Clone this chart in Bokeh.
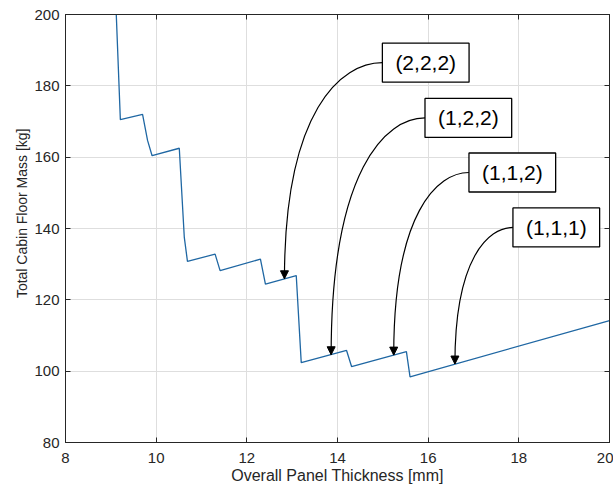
import math
from bokeh.plotting import figure
from bokeh.models import Label, LinearAxis, Arrow, NormalHead, ColumnDataSource, Range1d, FixedTicker, Title
from bokeh.embed import file_html
from bokeh.resources import INLINE

# Data
thickness = [9.12, 9.21, 9.70, 9.81, 9.91, 10.51, 10.62, 10.69, 11.30, 11.41, 12.30, 12.41,
             13.09, 13.20, 14.20, 14.31, 15.52, 15.60, 20.0]
mass = [200.0, 170.5, 172.0, 164.7, 160.4, 162.5, 137.6, 130.8, 132.8, 128.2, 131.4, 124.4,
        126.8, 102.4, 105.8, 101.3, 105.5, 98.4, 114.2]
x_ticks = [8, 10, 12, 14, 16, 18, 20]
y_ticks = [80, 100, 120, 140, 160, 180, 200]

ann_labels = ["(2,2,2)", "(1,2,2)", "(1,1,2)", "(1,1,1)"]
ann_box_x = [14.99, 15.93, 16.90, 17.87]
ann_box_y = [186.5, 171.0, 155.7, 140.3]
ann_tip_x = [12.83, 13.86, 15.24, 16.59]
ann_tip_y = [125.9, 104.6, 104.5, 102.0]

FONT = "Liberation Sans"
AX = "#262626"

p = figure(width=613, height=488, x_range=Range1d(8, 20), y_range=Range1d(80, 200),
           output_backend="svg", toolbar_location=None,
           min_border_left=65, min_border_right=4, min_border_top=14, min_border_bottom=46)
p.background_fill_color = "white"
p.border_fill_color = "white"
p.outline_line_color = AX
p.outline_line_width = 1

p.xaxis.ticker = FixedTicker(ticks=x_ticks)
p.yaxis.ticker = FixedTicker(ticks=y_ticks)
for ax in [p.xaxis[0], p.yaxis[0]]:
    ax.major_tick_in = 5
    ax.major_tick_out = 0
    ax.minor_tick_line_color = None
    ax.axis_line_color = AX
    ax.major_tick_line_color = AX
    ax.major_label_text_font = FONT
    ax.major_label_text_font_size = "15px"
    ax.major_label_text_color = AX
p.xaxis.major_label_standoff = 10
p.yaxis.major_label_standoff = 6

p.xaxis.axis_label = "Overall Panel Thickness [mm]"
p.xaxis.axis_label_text_font = FONT
p.xaxis.axis_label_text_font_size = "16px"
p.xaxis.axis_label_text_font_style = "normal"
p.xaxis.axis_label_text_color = AX
p.xaxis.axis_label_standoff = 1

for loc, tk in [("above", x_ticks), ("right", y_ticks)]:
    ax = LinearAxis(ticker=FixedTicker(ticks=tk),
                    major_label_overrides={t: "" for t in tk},
                    major_label_standoff=0, major_tick_in=5, major_tick_out=0,
                    minor_tick_line_color=None, axis_line_color=AX, major_tick_line_color=AX)
    p.add_layout(ax, loc)

p.add_layout(Title(text="Total Cabin Floor Mass [kg]", align="right", offset=114,
                   text_font=FONT, text_font_size="14px", text_font_style="normal",
                   text_color=AX, standoff=4), "left")

p.xgrid.ticker = FixedTicker(ticks=x_ticks)
p.ygrid.ticker = FixedTicker(ticks=y_ticks)
p.grid.grid_line_color = "#dedede"
p.grid.grid_line_width = 1

p.line(thickness, mass, line_color="#1f67a3", line_width=1.3)

# curved annotation arrows
cx0 = [sx - 0.42 * (sx - tx) for sx, tx in zip(ann_box_x, ann_tip_x)]
cy0 = list(ann_box_y)
cx1 = list(ann_tip_x)
cy1 = [sy - 0.22 * (sy - ty) for sy, ty in zip(ann_box_y, ann_tip_y)]
p.bezier(x0=ann_box_x, y0=ann_box_y, x1=ann_tip_x, y1=ann_tip_y,
         cx0=cx0, cy0=cy0, cx1=cx1, cy1=cy1, line_color="black", line_width=1.2)

src = ColumnDataSource(dict(xs=ann_tip_x, ys=[y + 0.5 for y in ann_tip_y],
                            xe=ann_tip_x, ye=ann_tip_y))
p.add_layout(Arrow(end=NormalHead(size=8, fill_color="black", line_color="black", line_width=1),
                   x_start="xs", y_start="ys", x_end="xe", y_end="ye", source=src,
                   line_alpha=0))

for t, x, y in zip(ann_labels, ann_box_x, ann_box_y):
    p.add_layout(Label(x=x, y=y, text=t, text_align="left", text_baseline="middle",
                       text_font=FONT, text_font_size="21px", text_color="black",
                       border_line_color="black", border_line_width=1.3,
                       background_fill_color="white",
                       padding=dict(left=13, right=13, top=8, bottom=8)))

open("out.html", "w").write(file_html(p, INLINE))
